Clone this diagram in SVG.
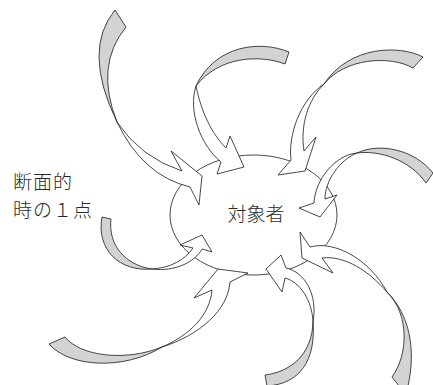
<svg xmlns="http://www.w3.org/2000/svg" width="433" height="385" viewBox="0 0 433 385">
<style>
.back{fill:#d3d3d3;stroke:#1a1a1a;stroke-width:0.8;stroke-linejoin:round}
.front{fill:#ffffff;stroke:#1a1a1a;stroke-width:0.8;stroke-linejoin:miter}
.lbl{font-family:"Noto Sans CJK JP","Noto Sans CJK SC",sans-serif;font-weight:300;fill:#2a2a2a}
</style>
<rect width="433" height="385" fill="#ffffff"/>
<g id="target">
<ellipse cx="253.5" cy="215" rx="83.5" ry="60" fill="#ffffff" stroke="#1a1a1a" stroke-width="0.8"/>
<text class="lbl" x="256" y="221" font-size="19" text-anchor="middle">対象者</text>
</g>
<g id="label-cross-section">
<text class="lbl" x="13" y="189" font-size="19" letter-spacing="1">断面的</text>
<text class="lbl" x="13" y="216.6" font-size="19" letter-spacing="1">時の１点</text>
</g>
<g id="connectors">
<g id="arrow-a">
<path class="back" d="M115,10 Q82,50 117,122 Q94.5,65.5 126,27 Z"/>
<path class="front" d="M117,122 Q140.5,157.5 182,171 L171,151 L202,176 L199,205 L190,187 Q142.5,175.5 117,122 Z"/>
</g>
<g id="arrow-b">
<path class="back" d="M289,52 C260,40 215,45 196,86 C220,55 262,55 285,64 Z"/>
<path class="front" d="M196,86 C200,105 208,130 226,148 L230,136 L244,167 L217,174 L221,162 C200,145 188,110 196,86 Z"/>
</g>
<g id="arrow-c">
<path class="back" d="M423,57 C400,45 350,45 324,84 C345,58 390,55 413,68 Z"/>
<path class="front" d="M324,84 C308,100 300,125 304,151 L316,137 L305,171 L278,175 L291,160 C288,135 300,100 324,84 Z"/>
</g>
<g id="arrow-d">
<path class="back" d="M433,173 C415,150 380,142 357,153 C380,150 410,160 426,183 Z"/>
<path class="front" d="M357,153 C340,160 325,180 325,199 L337,195 L320,217 L299,208 L314,203 C315,180 335,155 357,153 Z"/>
</g>
<g id="arrow-e">
<path class="back" d="M392,377 L399,386 L408,386 C416,350 410,315 387,292 C410,315 408,355 392,377 Z"/>
<path class="front" d="M387,292 C370,260 335,240 310,247 L300,232 L302,258 L333,273 L322,258 C345,255 370,272 387,292 Z"/>
</g>
<g id="arrow-f">
<path class="back" d="M265,375 C290,372 312,355 313,322 C316,360 300,384 267,386 Z"/>
<path class="front" d="M313,322 C318,295 305,272 286,268 L281,255 L266,269 L282,292 L285,278 C300,282 312,300 313,322 Z"/>
</g>
<g id="arrow-g">
<path class="back" d="M49,344 C70,368 125,370 162,347 C125,362 80,356 65,337 Z"/>
<path class="front" d="M162,347 C190,335 210,315 212,290 L194,298 L218,269 L248,273 L230,282 C228,310 200,335 162,347 Z"/>
</g>
<g id="arrow-h">
<path class="back" d="M102,217 C96,250 120,272 152,269 C125,265 108,245 111,219 Z"/>
<path class="front" d="M152,269 C170,268 185,260 193,248 L180,245 L202,235 L212,252 L202,249 C195,262 175,272 152,269 Z"/>
</g>
</g>
</svg>
